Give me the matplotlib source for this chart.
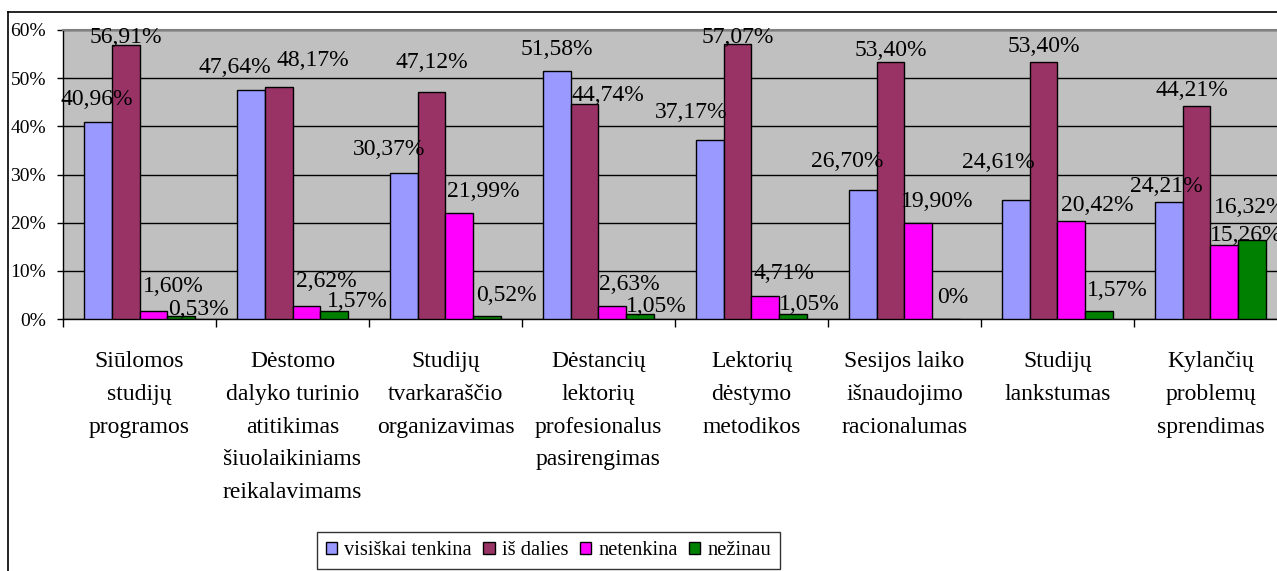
import matplotlib
matplotlib.use('Agg')
import matplotlib.pyplot as plt
from matplotlib.lines import Line2D
import numpy as np

plt.rcParams['font.family'] = ['Liberation Serif', 'DejaVu Serif']

categories = ['Siūlomos\nstudijų\nprogramos',
              'Dėstomo\ndalyko turinio\natitikimas\nšiuolaikiniams\nreikalavimams',
              'Studijų\ntvarkaraščio\norganizavimas',
              'Dėstancių\nlektorių\nprofesionalus\npasirengimas',
              'Lektorių\ndėstymo\nmetodikos',
              'Sesijos laiko\nišnaudojimo\nracionalumas',
              'Studijų\nlankstumas',
              'Kylančių\nproblemų\nsprendimas']
series = ['visiškai tenkina', 'iš dalies', 'netenkina', 'nežinau']
visiskai = [40.96, 47.64, 30.37, 51.58, 37.17, 26.70, 24.61, 24.21]
is_dalies = [56.91, 48.17, 47.12, 44.74, 57.07, 53.40, 53.40, 44.21]
netenkina = [1.60, 2.62, 21.99, 2.63, 4.71, 19.90, 20.42, 15.26]
nezinau = [0.53, 1.57, 0.52, 1.05, 1.05, 0.0, 1.57, 16.32]
yticks = [0, 10, 20, 30, 40, 50, 60]

colors = ['#9999FF', '#993366', '#FF00FF', '#008000']

# label offsets in pixels: (dx, gap above bar top to baseline), per series per group
label_dx = [[-1, -16, -15, 0, -19, -16, -17, -2],
            [0, 34, 0, 23, 0, 0, 0, -5],
            [20, 20, 24, 17, 19, 19, 26, 22],
            [17, 23, 19, 16, 16, 6, 18, -2]]
label_gap = [[17, 17, 18, 16, 22, 23, 32, 10],
             [2, 21, 24, 3, 1, 6, 10, 10],
             [19, 19, 16, 16, 17, 16, 10, 4],
             [1, 4, 15, 2, 4, 16, 15, 27]]

W, H = 1277, 571
fig = plt.figure(figsize=(W / 100, H / 100), dpi=100)
ax = fig.add_axes([63 / W, (H - 319) / H, (1287 - 63) / W, (319 - 30) / H])
ax.set_facecolor('#C0C0C0')

x = np.arange(len(categories))
bw = 0.182
data = [visiskai, is_dalies, netenkina, nezinau]
for k, vals in enumerate(data):
    pos = x + (k - 1.5) * bw
    ax.bar(pos, vals, bw, color=colors[k], edgecolor='black', linewidth=1.0,
           label=series[k], zorder=3)
    for i, v in enumerate(vals):
        txt = '0%' if v == 0 else ('%.2f' % v).replace('.', ',') + '%'
        ax.annotate(txt, (pos[i], v), xytext=(label_dx[k][i], label_gap[k][i]),
                    textcoords='offset pixels', ha='center', va='baseline',
                    fontsize=17, color='black', zorder=5, annotation_clip=False)

ax.set_xlim(-0.5, len(categories) - 0.5)
ax.set_ylim(0, 60)
ax.set_yticks(yticks)
ax.set_yticklabels(['%d%%' % t for t in yticks], fontsize=14)
ax.yaxis.grid(True, color='black', linewidth=1.0)
ax.set_axisbelow(True)

ax.set_xticks(np.arange(len(categories) + 1) - 0.5)
ax.set_xticklabels([])
ax.set_xticks(x, labels=categories, minor=True)
ax.tick_params(axis='x', which='minor', length=0, pad=23, labelsize=17)
ax.tick_params(axis='x', which='major', direction='out', length=5.8, width=1, color='black')
ax.tick_params(axis='y', which='major', direction='out', length=4.3, width=1, color='black', pad=8)
for lab in ax.get_xticklabels(minor=True):
    lab.set_linespacing(1.74)
    lab.set_verticalalignment('top')

ax.spines['top'].set_color('#808080')
ax.spines['top'].set_linewidth(1.5)
ax.spines['right'].set_visible(False)
ax.spines['left'].set_linewidth(1.0)
ax.spines['bottom'].set_linewidth(1.0)

leg = fig.legend(loc='center', bbox_to_anchor=(548.5 / W, 1 - 550.5 / H), ncol=4,
                 fontsize=14.8, frameon=True, fancybox=False, edgecolor='black',
                 handlelength=0.55, handleheight=0.55, handletextpad=0.35,
                 columnspacing=0.55, borderpad=0.45, borderaxespad=0)
leg.get_frame().set_linewidth(1.0)

# outer chart frame
fig.add_artist(Line2D([8 / W, 8 / W], [0, 1 - 12 / H], color='black', lw=1.2))
fig.add_artist(Line2D([8 / W, 1], [1 - 12 / H, 1 - 12 / H], color='black', lw=1.2))

fig.savefig('out.png', dpi=100)
